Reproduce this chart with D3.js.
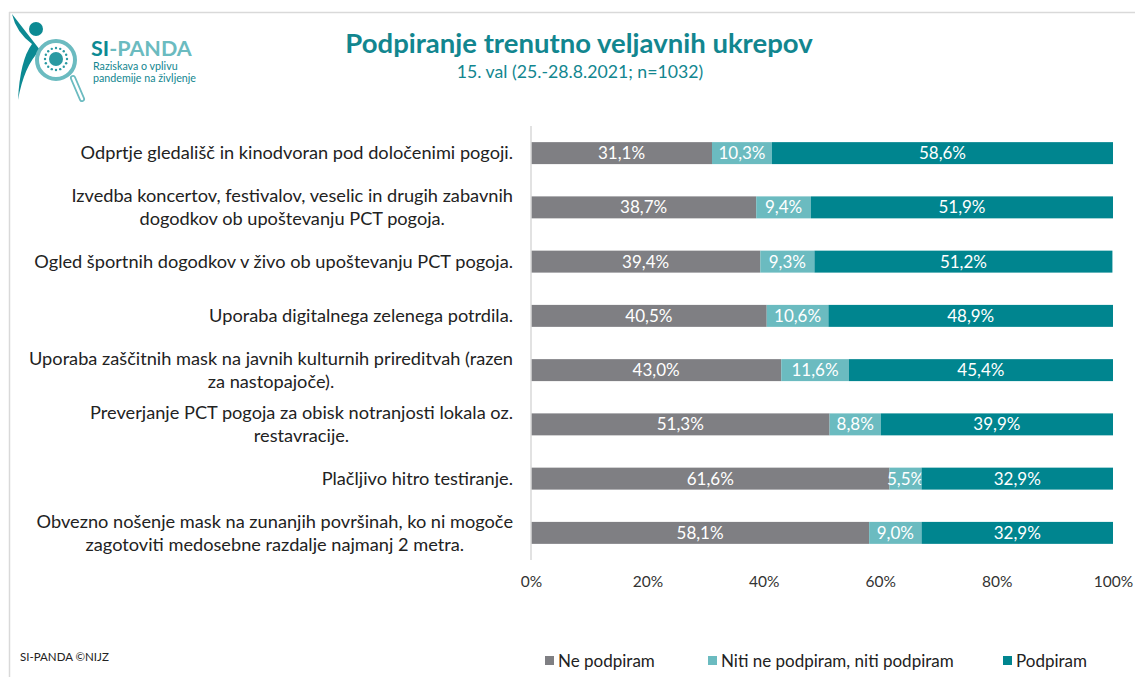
<!DOCTYPE html>
<html>
<head>
<meta charset="utf-8">
<script src="https://cdn.jsdelivr.net/npm/d3@7"></script>
<style>
  body { margin: 0; background: #fff; }
  svg { display: block; font-family: Lato, "Open Sans", sans-serif; }
</style>
</head>
<body>
<svg width="1135" height="677"></svg>
<script>
  var categories = [
    "Odprtje gledališč in kinodvoran pod določenimi pogoji.",
    "Izvedba koncertov, festivalov, veselic in drugih zabavnih|dogodkov ob upoštevanju PCT pogoja.",
    "Ogled športnih dogodkov v živo ob upoštevanju PCT pogoja.",
    "Uporaba digitalnega zelenega potrdila.",
    "Uporaba zaščitnih mask na javnih kulturnih prireditvah (razen|za nastopajoče).",
    "Preverjanje PCT pogoja za obisk notranjosti lokala oz.|restavracije.",
    "Plačljivo hitro testiranje.",
    "Obvezno nošenje mask na zunanjih površinah, ko ni mogoče|zagotoviti medosebne razdalje najmanj 2 metra."
  ]
  var nePodpiram = [31.1, 38.7, 39.4, 40.5, 43.0, 51.3, 61.6, 58.1]
  var niti = [10.3, 9.4, 9.3, 10.6, 11.6, 8.8, 5.5, 9.0]
  var podpiram = [58.6, 51.9, 51.2, 48.9, 45.4, 39.9, 32.9, 32.9]
  var seriesNames = ["Ne podpiram", "Niti ne podpiram, niti podpiram", "Podpiram"]
  var tickValues = [0, 20, 40, 60, 80, 100]

  var colors = ["#7f7f83", "#6bbbc0", "#00858f"]
  var teal = "#12868f"

  var svg = d3.select('svg')

  // frame (top + left line)
  svg.append('line').attr('x1', 9).attr('x2', 1135).attr('y1', 12.5).attr('y2', 12.5)
     .style('stroke', '#d9d9d9').style('stroke-width', 1.5)
  svg.append('line').attr('x1', 9.5).attr('x2', 9.5).attr('y1', 12).attr('y2', 677)
     .style('stroke', '#d9d9d9').style('stroke-width', 1.5)

  // logo
  var logo = svg.append('g')
  logo.append('path').attr('d', 'M12,14 Q16,32 32,44 Q20,60 18,100 Q24,66 40,50 Z').style('fill', '#0c8a93')
  logo.append('circle').attr('cx', 36).attr('cy', 29).attr('r', 7).style('fill', '#0c8a93')
  logo.append('circle').attr('cx', 56).attr('cy', 60).attr('r', 19).style('fill', '#fff')
      .style('stroke', '#6bbbc0').style('stroke-width', 4)
  logo.append('line').attr('x1', 73).attr('y1', 78).attr('x2', 82).attr('y2', 99)
      .style('stroke', '#6bbbc0').style('stroke-width', 6).style('stroke-linecap', 'round')
  logo.append('line').attr('x1', 73).attr('y1', 78).attr('x2', 82).attr('y2', 99)
      .style('stroke', '#fff').style('stroke-width', 2.5).style('stroke-linecap', 'round')
  logo.append('circle').attr('cx', 56).attr('cy', 59).attr('r', 7).style('fill', '#2a9aa2')
  d3.range(16).forEach(function(i) {
    var a = i / 16 * Math.PI * 2
    logo.append('circle').attr('cx', 56 + Math.cos(a) * 11).attr('cy', 59 + Math.sin(a) * 11)
        .attr('r', 1.2).style('fill', '#2a9aa2')
  })
  var logoText = logo.append('text').attr('x', 91).attr('y', 56)
      .style('font-size', '21.5px').style('font-weight', 'bold')
  logoText.append('tspan').text('SI').style('fill', '#0c8a93')
  logoText.append('tspan').text('-PANDA').style('fill', '#6bbbc0')
  logo.append('text').attr('x', 93).attr('y', 70).text('Raziskava o vplivu')
      .style('font-size', '10.7px').style('fill', teal)
  logo.append('text').attr('x', 93).attr('y', 82).text('pandemije na življenje')
      .style('font-size', '10.7px').style('fill', teal)

  // title
  svg.append('text').attr('x', 579).attr('y', 53).text('Podpiranje trenutno veljavnih ukrepov')
     .style('text-anchor', 'middle').style('font-size', '27.5px').style('font-weight', 'bold').style('fill', teal)
  svg.append('text').attr('x', 580).attr('y', 78).text('15. val (25.-28.8.2021; n=1032)')
     .style('text-anchor', 'middle').style('font-size', '17.7px').style('fill', teal)

  var x = d3.scaleLinear().domain([0, 100]).range([531, 1113])
  var y = d3.scaleBand().domain(categories).range([126, 560]).paddingInner(0.595).paddingOuter(0.2975)

  var rows = categories.map(function(c, i) {
    return { cat: c, ne: nePodpiram[i], niti: niti[i], pod: podpiram[i] }
  })
  var stacked = d3.stack().keys(['ne', 'niti', 'pod'])(rows)

  var layers = svg.selectAll('g.layer')
     .data(stacked)
     .enter()
     .append('g')
     .attr('class', 'layer')
     .style('fill', function(d, i) { return colors[i] })

  layers.selectAll('rect')
     .data(function(d) { return d })
     .enter()
     .append('rect')
     .attr('x', function(d) { return x(d[0]) })
     .attr('width', function(d) { return x(d[1]) - x(d[0]) })
     .attr('y', function(d) { return y(d.data.cat) })
     .attr('height', y.bandwidth())

  layers.selectAll('text')
     .data(function(d) { return d })
     .enter()
     .append('text')
     .text(function(d) { return (d[1] - d[0]).toFixed(1).replace('.', ',') + '%' })
     .attr('x', function(d) { return (x(d[0]) + x(d[1])) / 2 })
     .attr('y', function(d) { return y(d.data.cat) + y.bandwidth() / 2 })
     .attr('dy', '0.35em')
     .style('text-anchor', 'middle')
     .style('fill', '#fff')
     .style('font-size', '17px')

  // vertical axis line
  svg.append('line').attr('x1', 531).attr('x2', 531).attr('y1', 126).attr('y2', 560)
     .style('stroke', '#d9d9d9').style('stroke-width', 1.5)

  // category labels: block right aligned, lines centred
  categories.forEach(function(c) {
    var lines = c.split('|')
    var g = svg.append('g')
    var texts = lines.map(function(l) {
      return g.append('text').text(l).style('font-size', '18.2px').style('fill', '#222')
    })
    var w = d3.max(texts, function(t) { return t.node().getComputedTextLength() })
    var cx = 513 - w / 2
    var cy = y(c) + y.bandwidth() / 2
    var lh = 23
    texts.forEach(function(t, i) {
      t.attr('x', cx).attr('y', cy + (i - (lines.length - 1) / 2) * lh)
       .attr('dy', '0.35em').style('text-anchor', 'middle')
    })
  })

  // x axis
  var xAxis = d3.axisBottom(x).tickValues(tickValues).tickSize(0).tickFormat(function(d) { return d + '%' })
  var ax = svg.append('g').attr('transform', 'translate(0,573)').call(xAxis)
  ax.select('.domain').remove()
  ax.selectAll('text').style('font-size', '15.5px').style('fill', '#333').style('font-family', 'Lato, sans-serif')

  // legend
  var legendX = [545, 708, 1003]
  var legend = svg.selectAll('g.legend')
     .data(seriesNames)
     .enter()
     .append('g')
     .attr('class', 'legend')
     .attr('transform', function(d, i) { return 'translate(' + legendX[i] + ',661)' })
  legend.append('rect').attr('x', 0).attr('y', -5).attr('width', 9).attr('height', 9)
     .style('fill', function(d, i) { return colors[i] })
  legend.append('text').text(function(d) { return d }).attr('x', 13).attr('dy', '0.35em')
     .style('font-size', '17px').style('fill', '#222')

  svg.append('text').attr('x', 20).attr('y', 661).text('SI-PANDA ©NIJZ')
     .style('font-size', '11.5px').style('fill', '#222')
</script>
</body>
</html>
